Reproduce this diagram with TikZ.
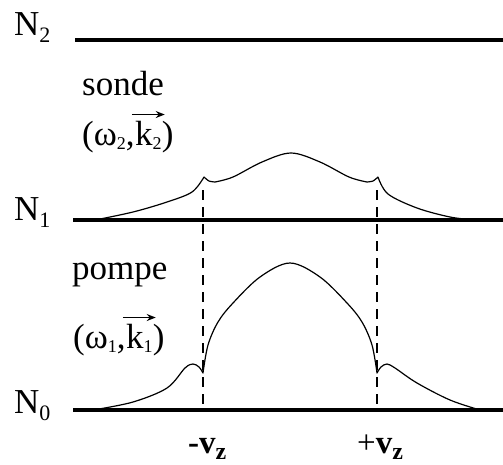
\documentclass[tikz,border=0pt]{standalone}
\usepackage{fontspec}
\setmainfont{Liberation Serif}
\usetikzlibrary{arrows.meta}
\newcommand\lowsub[3]{\raisebox{-#2}{\fontsize{#1}{#1}\selectfont #3}}
\begin{document}
\begin{tikzpicture}[x=1pt,y=-1pt,
  level/.style={line width=3.2pt},
  curve/.style={line width=1.2pt, line join=round, line cap=round},
  guide/.style={line width=2.5pt, dash pattern=on 10pt off 7pt},
  lbl/.style={inner sep=0pt, font=\fontsize{35}{40}\selectfont},
  vlbl/.style={inner sep=0pt, font=\fontsize{33}{38}\selectfont},
  vec/.style={line width=1.4pt, -{Stealth[length=9pt,width=7pt]}}]
\useasboundingbox (0,0) rectangle (503,464);
% levels
\coordinate (n2a) at (75,40);  \coordinate (n2b) at (503,40);
\coordinate (n1a) at (73,220); \coordinate (n1b) at (503,220);
\coordinate (n0a) at (73,410); \coordinate (n0b) at (503,410);
\draw[level] (n2a) -- (n2b);
\draw[level] (n1a) -- (n1b);
\draw[level] (n0a) -- (n0b);
% dashed guides
\coordinate (dLt) at (203,190); \coordinate (dLb) at (203,410);
\coordinate (dRt) at (377,190); \coordinate (dRb) at (377,410);
\draw[guide] (dLt) -- (dLb);
\draw[guide] (dRt) -- (dRb);
% upper population (N1)
\draw[curve]
  plot[smooth, tension=0.55] coordinates {(95,220) (133,212) (167,202) (192,192) (204,177)}
  plot[smooth, tension=0.5] coordinates {(204,177) (209,181) (215,182)}
  plot[smooth, tension=0.55] coordinates {(215,182) (233,177) (262,162) (291,153) (320,162) (349,177) (367,182)}
  plot[smooth, tension=0.5] coordinates {(367,182) (373,181) (378,177)}
  plot[smooth, tension=0.55] coordinates {(378,177) (388,194) (417,208) (450,217) (475,220)};
% lower population (N0)
\draw[curve]
  plot[smooth, tension=0.55] coordinates {(93,410) (133,402) (167,388) (185,368) (193,364) (199,367) (203,373)}
  plot[smooth, tension=0.55] coordinates {(203,373) (208,345) (218,322) (233,303) (260,277) (290,263) (320,277) (347,303) (362,322) (372,345) (377,373)}
  plot[smooth, tension=0.55] coordinates {(377,373) (381,367) (387,364) (395,368) (417,383) (450,400) (480,410)};
% level labels
\node[lbl, anchor=base west] (N2) at (14,35) {N\lowsub{22}{7pt}{2}};
\node[lbl, anchor=base west] (N1) at (14,220) {N\lowsub{22}{7pt}{1}};
\node[lbl, anchor=base west] (N0) at (14,413) {N\lowsub{22}{7pt}{0}};
% probe
\node[lbl, anchor=base west] (sonde) at (82,95) {sonde};
\node[lbl, anchor=base west] (s2a) at (82,145) {(ω\lowsub{18}{4pt}{2},};
\node[lbl, anchor=base west] (k2) at (s2a.base east) {k\lowsub{18}{4pt}{2}};
\node[lbl, anchor=base west] (s2b) at (k2.base east) {)};
\draw[vec] ([shift={(-3,-6)}]k2.north west) -- ([shift={(3,-6)}]k2.north east);
% pump
\node[lbl, anchor=base west] (pompe) at (72,279) {pompe};
\node[lbl, anchor=base west] (p1a) at (73,348) {(ω\lowsub{18}{4pt}{1},};
\node[lbl, anchor=base west] (k1) at (p1a.base east) {k\lowsub{18}{4pt}{1}};
\node[lbl, anchor=base west] (p1b) at (k1.base east) {)};
\draw[vec] ([shift={(-3,-6)}]k1.north west) -- ([shift={(3,-6)}]k1.north east);
% velocity labels
\node[vlbl, anchor=base west] (vm) at (188,453) {\textbf{-v}\lowsub{24}{6pt}{\textbf{z}}};
\node[vlbl, anchor=base west] (vp) at (357,453) {+\textbf{v}\lowsub{24}{6pt}{\textbf{z}}};
\end{tikzpicture}
\end{document}
